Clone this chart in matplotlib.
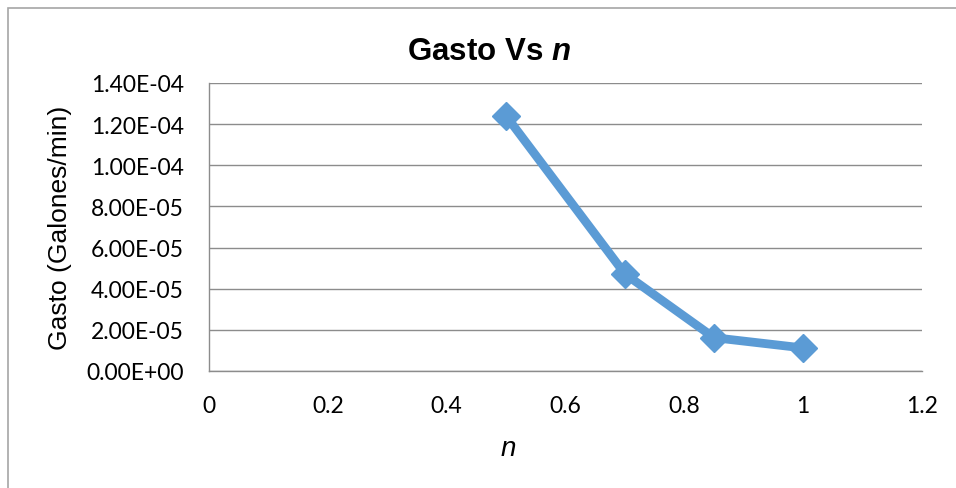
import matplotlib
matplotlib.use("Agg")
import matplotlib.pyplot as plt
from matplotlib.patches import Rectangle
from matplotlib.ticker import FuncFormatter


n_vals = [0.5, 0.7, 0.85, 1.0]
gasto = [1.24e-4, 4.72e-5, 1.62e-5, 1.12e-5]

x_ticks = [0, 0.2, 0.4, 0.6, 0.8, 1.0, 1.2]
y_ticks = [0, 2e-5, 4e-5, 6e-5, 8e-5, 1.0e-4, 1.2e-4, 1.4e-4]

BLUE = "#5B9BD5"
GRID = "#8C8C8C"
W, H = 956, 489

plt.rcParams["mathtext.fontset"] = "custom"
plt.rcParams["mathtext.it"] = "Liberation Sans:italic"
plt.rcParams["mathtext.bfit"] = "Liberation Sans:bold:italic"
plt.rcParams["mathtext.rm"] = "Liberation Sans"


def sci_fmt(v, pos):
    return "%.2E" % v


def x_fmt(v, pos):
    if abs(v - round(v)) < 1e-9:
        return "%d" % round(v)
    return "%g" % v


fig = plt.figure(figsize=(W / 100, H / 100), dpi=100)

# outer chart border
fig.patches.append(Rectangle((8 / W, -0.1), 1.1, 1 - 9 / H + 0.1,
                             transform=fig.transFigure, fill=False,
                             edgecolor="#A6A6A6", linewidth=1.2))

ax = fig.add_axes([209 / W, 1 - 372 / H, (922 - 209) / W, (372 - 84) / H])

ax.plot(n_vals, gasto, color=BLUE, linewidth=6.3, marker="D",
        markersize=14.5, markerfacecolor=BLUE, markeredgecolor=BLUE,
        solid_joinstyle="miter", zorder=3)

ax.set_xlim(0, 1.2)
ax.set_ylim(0, 1.4e-4)
ax.set_xticks(x_ticks)
ax.set_yticks(y_ticks)
ax.xaxis.set_major_formatter(FuncFormatter(x_fmt))
ax.yaxis.set_major_formatter(FuncFormatter(sci_fmt))

ax.grid(axis="y", color=GRID, linewidth=1.0)
ax.set_axisbelow(True)
for side in ["top", "right"]:
    ax.spines[side].set_visible(False)
for side in ["left", "bottom"]:
    ax.spines[side].set_color(GRID)
    ax.spines[side].set_linewidth(1.0)

ax.tick_params(axis="both", length=0, labelsize=16.5)
ax.tick_params(axis="y", pad=18)
ax.tick_params(axis="x", pad=17)
for lab in ax.get_xticklabels() + ax.get_yticklabels():
    lab.set_family("Lato")

fig.text(489 / W, 1 - 60 / H, r"Gasto Vs $\bfit{n}$", fontsize=22.5,
         fontweight="bold", family="Liberation Sans", ha="center",
         va="baseline")
fig.text(508 / W, 1 - 456 / H, r"$n$", fontsize=20, ha="center",
         va="baseline")
fig.text(60 / W, 1 - 228 / H, "Gasto (Galones/min)", fontsize=19,
         family="Liberation Sans", rotation=90, ha="center", va="center")

fig.savefig("out.png", dpi=100)
